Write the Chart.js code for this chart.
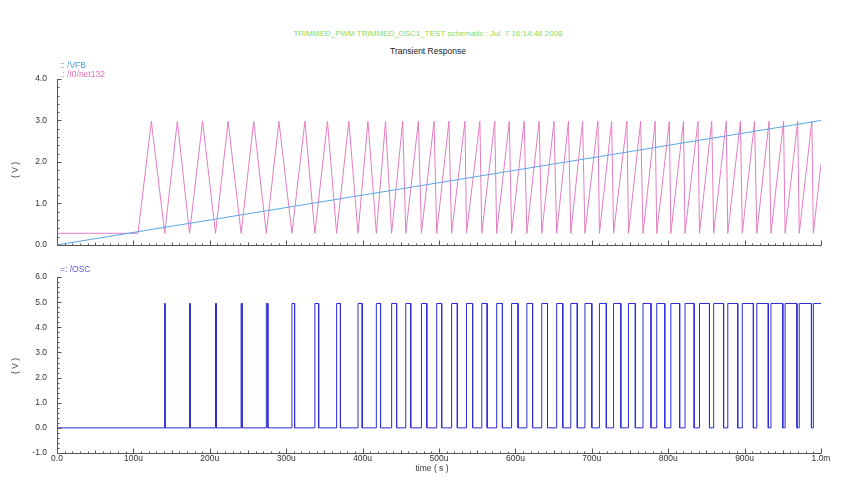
<!DOCTYPE html>
<html>
<head>
<meta charset="utf-8">
<script src="https://cdn.jsdelivr.net/npm/chart.js@4.4.1/dist/chart.umd.min.js"></script>
<style>
  body { margin: 0; background: #fff; }
  #wrap { position: relative; width: 858px; height: 488px; overflow: hidden; font-family: 'Liberation Sans', Arial, sans-serif; }
  canvas { position: absolute; left: 0; }
  .txt { position: absolute; white-space: nowrap; font-size: 8.5px; line-height: 10px; }
  .center { transform: translateX(-50%); }
  .vert { transform: translate(-50%, -50%) rotate(-90deg); }
</style>
</head>
<body>
<div id="wrap">
  <canvas id="topChart" width="858" height="200" style="top:60px"></canvas>
  <canvas id="bottomChart" width="858" height="226" style="top:262px"></canvas>

  <div class="txt center" style="left:428px;top:29px;color:#86dc5c;font-size:8px">TRIMMED_PWM TRIMMED_OSC1_TEST schematic : Jul&nbsp; 7 16:14:48 2008</div>
  <div class="txt center" style="left:428px;top:46px;color:#222;font-size:8.5px">Transient Response</div>

  <div class="txt" style="left:60px;top:60px;color:#4a9ee2">:: /VFB</div>
  <div class="txt" style="left:60px;top:69px;color:#e070b8">.: /I0/net132</div>
  <div class="txt" style="left:60px;top:264px;color:#5a5ad8">=: /OSC</div>

  <div class="txt vert" style="left:15px;top:170px;color:#333">( V )</div>
  <div class="txt vert" style="left:15px;top:366px;color:#333">( V )</div>
  <div class="txt center" style="left:432px;top:463px;color:#333">time ( s )</div>
</div>

<script>
// time axis, in microseconds
const timeTicks = [0, 100, 200, 300, 400, 500, 600, 700, 800, 900, 1000];
const timeLabels = ['0.0', '100u', '200u', '300u', '400u', '500u', '600u', '700u', '800u', '900u', '1.0m'];

// /VFB ramp
const vfbTimes = [0, 1000];
const vfbVolts = [0, 3.0];

// /I0/net132 triangle: flat until the oscillator starts, then peaks and troughs
const netStart = 106;
const netFlat = 0.28;
const netPeak = 2.98;
const netTrough = 0.28;
const netEnd = 1.95;
const peakTimes = [123.5, 157.5, 190.5, 224, 257.5, 290.5, 324.5, 354, 382, 407, 430, 452.5, 473, 493.5, 513, 534,
  553.5, 573, 592, 611.5, 631, 650.5, 669.5, 688, 708, 726, 746, 764, 783, 801.5, 820, 839, 857, 876, 894.5,
  913, 932, 951, 969.5, 988];
const troughTimes = [141, 173.5, 207.5, 241, 274, 307.5, 337.5, 366, 394, 418, 438, 456.5, 477, 497, 516.5, 536,
  556, 575.5, 595, 615, 634.5, 654, 672.5, 691, 710, 728.5, 748, 767, 785, 803.5, 822, 841, 859.5, 878, 897,
  916, 934.5, 953, 971.5, 990];

// /OSC pulses: rises at each trough, falls at these times
const oscHigh = 4.95;
const oscLow = 0;
const oscRise = troughTimes;
const oscFall = [141.4, 174.2, 208.5, 242.3, 276, 311, 342.5, 371, 399.5, 423.5, 444.5, 463, 484, 503.5, 524, 544,
  563, 583, 603.5, 622.5, 642, 662, 681, 700, 719, 738, 757, 777.5, 795.5, 815, 834, 854, 872.5, 891, 911.5,
  931, 950, 968.5, 987.5];

const vfbData = vfbTimes.map((t, i) => ({x: t, y: vfbVolts[i]}));

const netData = [{x: 0, y: netFlat}, {x: netStart, y: netFlat}];
peakTimes.forEach((t, i) => {
  netData.push({x: t, y: netPeak});
  netData.push({x: troughTimes[i], y: netTrough});
});
netData.push({x: 1000, y: netEnd});

const oscData = [{x: 0, y: oscLow}];
oscRise.forEach((t, i) => {
  oscData.push({x: t, y: oscLow}, {x: t, y: oscHigh});
  if (i < oscFall.length) {
    oscData.push({x: oscFall[i], y: oscHigh}, {x: oscFall[i], y: oscLow});
  } else {
    oscData.push({x: 1000, y: oscHigh});
  }
});

Chart.defaults.font.family = "'Liberation Sans', Arial, sans-serif";
Chart.defaults.font.size = 8.5;
Chart.defaults.color = '#333';

// axis lines with small ticks pointing into the plot
const inwardTicks = {
  id: 'inwardTicks',
  afterDraw(chart) {
    const {ctx, chartArea: a, scales: {x, y}} = chart;
    ctx.save();
    ctx.strokeStyle = '#555';
    ctx.lineWidth = 1;
    ctx.beginPath();
    const left = Math.round(a.left) + 0.5;
    const bottom = Math.round(a.bottom) + 0.5;
    ctx.moveTo(left, Math.round(a.top));
    ctx.lineTo(left, bottom);
    ctx.lineTo(Math.round(a.right) + 0.5, bottom);
    for (let t = 0; t <= 1000; t += 10) {
      const px = Math.round(x.getPixelForValue(t)) + 0.5;
      const len = t % 100 === 0 ? 5 : (t % 50 === 0 ? 3 : 2);
      ctx.moveTo(px, bottom);
      ctx.lineTo(px, bottom - len);
    }
    for (let i = Math.round(y.min * 5); i <= Math.round(y.max * 5); i++) {
      const py = Math.round(y.getPixelForValue(i / 5)) + 0.5;
      const len = i % 5 === 0 ? 4 : 2;
      ctx.moveTo(left, py);
      ctx.lineTo(left + len, py);
    }
    ctx.stroke();
    ctx.restore();
  }
};

function makeOptions(yMin, yMax, padTop, xHeight, showTime) {
  return {
    responsive: false,
    animation: false,
    devicePixelRatio: 1,
    layout: { padding: { left: 0, right: 37, top: padTop, bottom: 0 } },
    plugins: { legend: { display: false }, tooltip: { enabled: false } },
    elements: { point: { radius: 0 }, line: { tension: 0, borderWidth: 1 } },
    scales: {
      x: {
        type: 'linear',
        min: 0,
        max: 1000,
        grid: { display: false, drawTicks: false, tickLength: 0 },
        border: { display: false },
        ticks: {
          display: showTime,
          stepSize: 100,
          padding: 1,
          autoSkip: false,
          maxRotation: 0,
          callback: v => {
            const i = timeTicks.indexOf(Math.round(v));
            return i >= 0 ? timeLabels[i] : '';
          }
        },
        afterFit: scale => { scale.height = xHeight; }
      },
      y: {
        min: yMin,
        max: yMax,
        grid: { display: false, drawTicks: false, tickLength: 0 },
        border: { display: false },
        ticks: {
          stepSize: 1,
          padding: 10,
          callback: v => Number(v).toFixed(1)
        },
        afterFit: scale => { scale.width = 57; }
      }
    }
  };
}

new Chart(document.getElementById('topChart'), {
  type: 'line',
  data: {
    datasets: [
      { label: '/VFB', data: vfbData, borderColor: '#5aa6e6' },
      { label: '/I0/net132', data: netData, borderColor: '#e47cc2' }
    ]
  },
  options: makeOptions(0, 4, 19, 10, false),
  plugins: [inwardTicks]
});

new Chart(document.getElementById('bottomChart'), {
  type: 'line',
  data: {
    datasets: [
      { label: '/OSC', data: oscData, borderColor: '#2c2cd4' }
    ]
  },
  options: makeOptions(-1, 6, 10, 35, true),
  plugins: [inwardTicks]
});
</script>
</body>
</html>
